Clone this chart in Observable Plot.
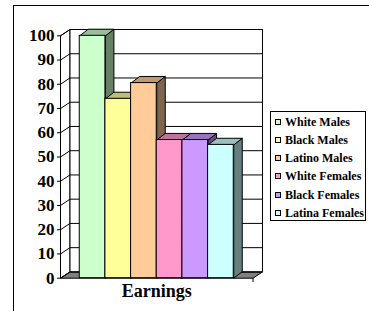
<!DOCTYPE html>
<html><head><meta charset="utf-8">
<script src="https://cdn.jsdelivr.net/npm/d3@7"></script>
<script src="https://cdn.jsdelivr.net/npm/@observablehq/plot@0.6"></script>
<style>
html,body{margin:0;padding:0;background:#fff;overflow:hidden}
#wrap{position:relative;width:369px;height:311px;overflow:hidden}
#frame{position:absolute;left:12.5px;top:4.5px;width:360px;height:330px;border-left:1.5px solid #000;border-top:1.5px solid #000;box-sizing:border-box}
#chart{position:absolute;left:0;top:0}
#legend{position:absolute;left:270px;top:111px;width:94px;height:108px;border:1px solid #000;background:#fff;font-family:"Liberation Serif","Times New Roman",serif;font-weight:bold;font-size:12px;color:#000}
.item{position:absolute;left:0;height:18px;line-height:18px;white-space:nowrap;width:94px}
.sw{position:absolute;left:3.5px;top:6px;width:4px;height:4px;border:1px solid #000}
.lab{position:absolute;left:14px;top:0}
</style>
</head><body>
<div id="wrap">
  <div id="frame"></div>
  <div id="chart"></div>
  <div id="legend"></div>
</div>
<script>
const categories = ["White Males","Black Males","Latino Males","White Females","Black Females","Latina Females"];
const earnings = [100, 74, 80.5, 57, 57, 55];
const frontColors = ["#CCFFCC","#FFFF99","#FFCC99","#FF99CC","#CC99FF","#CCFFFF"];
const topColors   = ["#99BF99","#BFBF73","#BF9973","#BF7399","#9973BF","#99BFBF"];
const sideColors  = ["#668066","#80804D","#80664D","#804D66","#664D80","#668080"];
const yTicks = [0,10,20,30,40,50,60,70,80,90,100];
const xLabel = "Earnings";

// layout constants
const X0 = -0.75, X1 = categories.length + 0.75;
const slotPx = 25.67, unitPx = 2.424;
const wdx = 9.5 / slotPx, wdy = 6.3 / unitPx;   // wall depth in data units
const bdx = 8.5 / slotPx, bdy = 6.6 / unitPx;   // bar depth in data units

function poly(points, fill) {
  const pts = points.concat([points[0]]);
  return Plot.line(pts, {x: d => d[0], y: d => d[1], fill, stroke: "#000", strokeWidth: 1,
    strokeLinecap: "butt", strokeLinejoin: "miter", strokeMiterlimit: 4});
}

const marks = [];
// floor
marks.push(poly([[X0,0],[X1,0],[X1+wdx,wdy],[X0+wdx,wdy]], "#808080"));
// left wall
marks.push(poly([[X0,0],[X0+wdx,wdy],[X0+wdx,100+wdy],[X0,100]], "#FFFFFF"));
// back wall
marks.push(poly([[X0+wdx,wdy],[X1+wdx,wdy],[X1+wdx,100+wdy],[X0+wdx,100+wdy]], "#FFFFFF"));
// gridlines
marks.push(Plot.link(yTicks, {x1: X0+wdx, x2: X1+wdx, y1: t => t+wdy, y2: t => t+wdy, stroke: "#000", strokeWidth: 1}));
marks.push(Plot.link(yTicks, {x1: X0, x2: X0+wdx, y1: t => t, y2: t => t+wdy, stroke: "#000", strokeWidth: 1}));
// front axis line
marks.push(Plot.ruleX([X0], {y1: 0, y2: 100, stroke: "#000", strokeWidth: 1}));
// category tick
marks.push(Plot.ruleX([X1], {y1: 0, y2: -1.8, stroke: "#000", strokeWidth: 1}));
// bars
categories.forEach((c, i) => {
  const v = earnings[i];
  marks.push(poly([[i+1,0],[i+1+bdx,bdy],[i+1+bdx,v+bdy],[i+1,v]], sideColors[i]));
  marks.push(poly([[i,v],[i+1,v],[i+1+bdx,v+bdy],[i+bdx,v+bdy]], topColors[i]));
  marks.push(Plot.rect([{a: i, b: i+1, v}], {x1: "a", x2: "b", y1: 0, y2: "v", fill: frontColors[i], stroke: "#000", strokeWidth: 1}));
});
// x label
marks.push(Plot.text([xLabel], {x: (categories.length)/2, frameAnchor: "bottom", dy: 19, text: d => d,
  fontSize: 18, fontWeight: "bold", fontFamily: "Liberation Serif", fill: "#000"}));

const chart = Plot.plot({
  width: 369, height: 311,
  marginLeft: 60, marginRight: 116.5, marginTop: 35.3, marginBottom: 33.3,
  x: {domain: [X0, X1], axis: null},
  y: {domain: [0, 100], ticks: yTicks, tickSize: 3, tickPadding: 3, label: null},
  style: {fontFamily: "Liberation Serif", fontSize: "17px", fontWeight: "bold", background: "transparent", color: "#000", overflow: "visible"},
  marks
});
document.getElementById("chart").appendChild(chart);

const legend = document.getElementById("legend");
categories.forEach((c, i) => {
  const item = document.createElement("div");
  item.className = "item";
  item.style.top = (1 + i * 18.15) + "px";
  const sw = document.createElement("span");
  sw.className = "sw";
  sw.style.background = frontColors[i];
  const lab = document.createElement("span");
  lab.className = "lab";
  lab.textContent = c;
  item.appendChild(sw); item.appendChild(lab);
  legend.appendChild(item);
});
</script>
</body></html>
